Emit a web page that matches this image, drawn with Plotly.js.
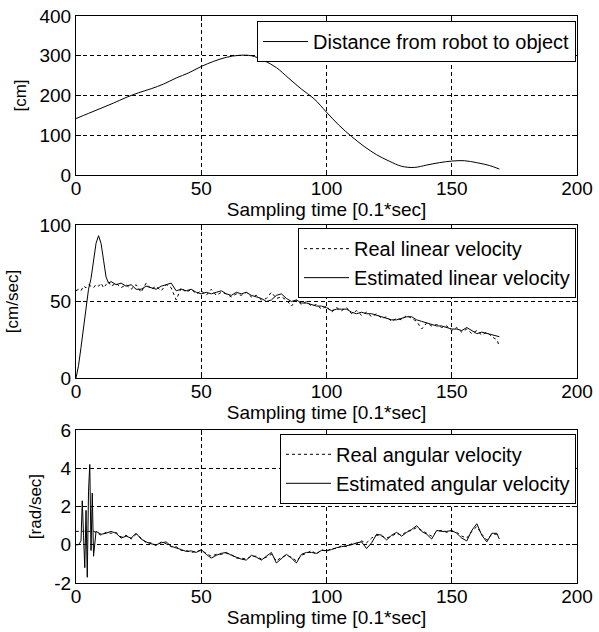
<!DOCTYPE html>
<html>
<head>
<meta charset="utf-8">
<script src="https://cdn.plot.ly/plotly-3.0.1.min.js"></script>
<style>html,body{margin:0;padding:0;background:#fff;}#chart{width:599px;height:632px;}</style>
</head>
<body>
<div id="chart"></div>
<script>
// ---- Panel 1: distance ----
const timeDist = [0,5,10,15,20,25,30,35,40,45,50,55,60,65,70,75,80,85,90,95,100,105,110,115,120,125,130,135,140,145,150,155,160,165,169];
const distance = [142,155,168,181,195,207,217,229,244,257,273,286,296,301,300,288,270,243,216,192,158,125,97,72,51,35,22,19,25,31,35,36,31,24,15];

// ---- Panel 2: linear velocity ----
const timeLin = [0,1,2,3,4,5,6,7,8,9,10,11,12,13,14,16,18,20,22,24,26,28,30,32,34,36,38,40,42,44,46,48,50,52,54,56,58,60,62,64,66,68,70,72,74,76,78,80,82,84,86,88,90,92,94,96,98,100,102,104,106,108,110,112,114,116,118,120,122,124,126,128,130,132,134,136,138,140,142,144,146,148,150,152,154,156,158,160,162,164,166,168,169];
const realLinear = [57,58,57,60,59,61,60,59,61,60,62,59,61,63,60,62,59,61,58,61,56,62,58,60,57,61,59,51,59,56,58,55,57,54,58,54,56,55,53,55,54,56,53,54,51,52,56,52,53,51,47,51,48,50,47,48,45,47,43,46,44,46,42,44,41,43,40,42,39,40,37,39,38,41,39,37,32,36,34,35,33,34,31,33,30,32,29,31,28,30,27,25,21];
const estLinear = [0,8,20,33,47,58,65,76,88,93,88,77,66,62,63,61,62,60,61,58,58,60,59,58,60,61,62,57,58,57,58,56,55,56,55,56,57,55,54,56,55,56,54,53,52,50,51,54,55,52,50,51,49,49,48,47,47,46,44,45,45,45,43,42,43,42,42,41,40,39,38,38,39,40,40,38,37,36,35,34,34,33,32,32,31,33,31,29,30,29,28,27,27];

// ---- Panel 3: angular velocity ----
const timeAng = [0,1,2,2.5,3,3.5,4,4.5,5,5.5,6,6.5,7,8,10,12,14,16,18,20,22,24,26,28,30,32,34,36,38,40,42,44,46,48,50,52,54,56,58,60,62,64,66,68,70,72,74,76,78,80,82,84,86,88,90,92,94,96,98,100,102,104,106,108,110,112,114,116,118,120,122,124,126,128,130,132,134,136,138,140,142,144,146,148,150,152,154,156,158,160,162,164,166,168,169];
const realAngular = [0.7,0.7,0.75,0.7,0.72,0.7,0.7,0.68,0.7,0.72,0.7,0.68,0.7,0.65,0.5,0.65,0.6,0.65,0.4,0.5,0.3,0.55,0.35,0.1,0.1,-0.05,0.15,0.05,-0.1,-0.1,-0.3,-0.3,-0.4,-0.35,-0.3,-0.45,-0.6,-0.5,-0.5,-0.45,-0.5,-0.7,-0.7,-0.75,-0.6,-0.6,-0.75,-0.65,-0.5,-0.85,-0.65,-0.55,-0.65,-0.85,-0.55,-0.45,-0.3,-0.5,-0.25,-0.35,-0.2,-0.2,-0.05,-0.1,0.05,0.05,0.2,0.1,0.35,0.5,0.45,0.35,0.45,0.6,0.5,0.7,0.75,0.9,0.75,0.6,0.45,0.7,0.75,0.65,0.7,0.65,0.45,0.35,0.7,0.95,0.55,0.25,0.55,0.55,0.45];
const estAngular = [0,0,0.2,2.3,0.5,-1.2,1.8,-1.7,2.8,4.2,-0.3,2.7,-0.6,0.7,0.55,0.6,0.7,0.6,0.35,0.45,0.35,0.6,0.3,0.15,0.05,0.0,0.1,0.15,-0.08,-0.15,-0.25,-0.35,-0.32,-0.4,-0.25,-0.5,-0.7,-0.55,-0.45,-0.4,-0.55,-0.65,-0.75,-0.8,-0.55,-0.65,-0.8,-0.6,-0.4,-0.95,-0.7,-0.5,-0.7,-0.95,-0.5,-0.4,-0.4,-0.45,-0.3,-0.3,-0.25,-0.15,-0.1,-0.05,0.0,0.1,0.15,-0.2,0.1,0.55,0.5,0.25,0.5,0.65,0.45,0.65,0.8,1.0,0.7,0.55,0.3,0.75,0.7,0.7,0.75,0.6,0.35,0.2,0.75,1.1,0.5,0.15,0.6,0.6,0.3];

// ---- ticks / labels ----
const xTicks = [0,50,100,150,200];
const y1Ticks = [0,100,200,300,400];
const y2Ticks = [0,50,100];
const y3Ticks = [-2,0,2,4,6];
const xTitle = 'Sampling time [0.1*sec]';

const FONT = 'Arial, "Liberation Sans", sans-serif';
const dotted = {color:'#000', width:1, dash:'3px,3px'};
const solid = {color:'#000', width:1};

const traces = [
  {x: timeDist, y: distance, type:'scatter', mode:'lines', name:'Distance from robot to object',
   line:{color:'#000', width:1, shape:'spline'}, xaxis:'x', yaxis:'y', legend:'legend'},
  {x: timeLin, y: realLinear, type:'scatter', mode:'lines', name:'Real linear velocity',
   line: dotted, xaxis:'x2', yaxis:'y2', legend:'legend2'},
  {x: timeLin, y: estLinear, type:'scatter', mode:'lines', name:'Estimated linear velocity',
   line: solid, xaxis:'x2', yaxis:'y2', legend:'legend2'},
  {x: timeAng, y: realAngular, type:'scatter', mode:'lines', name:'Real angular velocity',
   line: dotted, xaxis:'x3', yaxis:'y3', legend:'legend3'},
  {x: timeAng, y: estAngular, type:'scatter', mode:'lines', name:'Estimated angular velocity',
   line: solid, xaxis:'x3', yaxis:'y3', legend:'legend3'}
];

function xa(anchor){
  return {anchor: anchor, range:[0,200], tickvals:xTicks, ticktext:xTicks.map(String),
    ticks:'inside', ticklen:5, tickcolor:'#000', showline:true, linecolor:'#000', linewidth:1, mirror:'ticks',
    showgrid:true, gridcolor:'#000', griddash:'4px,3px', gridwidth:1, zeroline:false,
    tickfont:{family:FONT, size:19, color:'#000'}, ticklabelstandoff:-4,
    title:{text:xTitle, font:{family:FONT, size:19, color:'#000'}, standoff:0}, fixedrange:true};
}
function ya(anchor, dom, rng, tv, title, so){
  return {anchor: anchor, domain: dom, range: rng, tickvals: tv, ticktext: tv.map(String),
    ticks:'inside', ticklen:5, tickcolor:'#000', showline:true, linecolor:'#000', linewidth:1, mirror:'ticks',
    showgrid:true, gridcolor:'#000', griddash:'4px,3px', gridwidth:1, zeroline:false,
    tickfont:{family:FONT, size:19, color:'#000'}, fixedrange:true,
    title:{text:title, font:{family:FONT, size:17, color:'#000'}, standoff:so}};
}
const legBase = {bgcolor:'#fff', bordercolor:'#000', borderwidth:1, xanchor:'right', yanchor:'top',
  font:{family:FONT, size:20, color:'#000'}, tracegroupgap:0, itemwidth:45};

const layout = {
  width:599, height:632, margin:{l:76, r:22, t:0, b:0},
  paper_bgcolor:'#fff', plot_bgcolor:'#fff', font:{family:FONT, color:'#000'},
  xaxis: xa('y'), yaxis: ya('x', [0.7231,0.9747], [0,400], y1Ticks, '[cm]', 8),
  xaxis2: xa('y2'), yaxis2: ya('x2', [0.4019,0.644], [0,100], y2Ticks, '[cm/sec]', 16),
  xaxis3: xa('y3'), yaxis3: ya('x3', [0.0775,0.3196], [-2,6], y3Ticks, '[rad/sec]', 8),
  legend: Object.assign({}, legBase, {x:0.998, y:0.9747-0.008}),
  legend2: Object.assign({}, legBase, {x:0.998, y:0.644-0.005}),
  legend3: Object.assign({}, legBase, {x:0.998, y:0.3196-0.006}),
  showlegend:true
};

Plotly.newPlot('chart', traces, layout, {staticPlot:true, displayModeBar:false});
</script>
</body>
</html>
